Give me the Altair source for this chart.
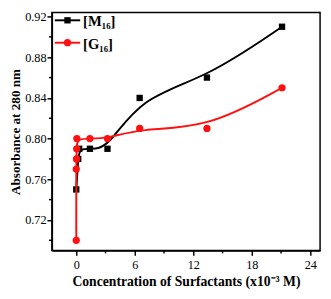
import altair as alt
import pandas as pd

# Series data
m_x = [0.0, 0.2, 0.3, 1.4, 3.2, 6.5, 13.4, 21.1]
m_y = [0.75, 0.78, 0.79, 0.79, 0.79, 0.84, 0.86, 0.91]
g_x = [0.0, 0.0, 0.02, 0.04, 0.06, 1.4, 3.2, 6.5, 13.4, 21.1]
g_y = [0.70, 0.77, 0.78, 0.79, 0.80, 0.80, 0.80, 0.81, 0.81, 0.85]

x_major = [0, 6, 12, 18, 24]
x_minor = [3, 9, 15, 21]
y_major = [0.72, 0.76, 0.80, 0.84, 0.88, 0.92]
y_minor = [0.70, 0.74, 0.78, 0.82, 0.86, 0.90]
legend_labels = ["[M₁₆]", "[G₁₆]"]

FONT = "Liberation Serif"
W, H = 275, 244

df_m = pd.DataFrame({"x": m_x, "y": m_y, "i": range(len(m_x))})
df_g = pd.DataFrame({"x": g_x, "y": g_y, "i": range(len(g_x))})

x_scale = alt.Scale(domain=[-2.5, 25], nice=False, zero=False)
y_scale = alt.Scale(domain=[0.69, 0.924], nice=False, zero=False)

x_enc = alt.X("x:Q", scale=x_scale, axis=alt.Axis(
    values=x_major, title="Concentration of Surfactants (x10⁻³ M)",
    format="d", grid=False, labelPadding=3, titlePadding=4))
y_enc = alt.Y("y:Q", scale=y_scale, axis=alt.Axis(
    values=y_major, title="Absorbance at 280 nm", format=".2f", grid=False,
    labelPadding=1, titlePadding=2, titleFontSize=13.5))

line_m = alt.Chart(df_m).mark_line(color="black", strokeWidth=2, interpolate="basis").encode(
    x=x_enc, y=y_enc, order="i:Q")
pts_m = alt.Chart(df_m).mark_point(shape="square", filled=True, color="black",
                                   size=42, opacity=1).encode(x=x_enc, y=y_enc)
line_g = alt.Chart(df_g).mark_line(color="#ff1010", strokeWidth=2, interpolate="basis").encode(
    x=x_enc, y=y_enc, order="i:Q")
pts_g = alt.Chart(df_g).mark_point(shape="circle", filled=True, color="#ff1010",
                                   size=55, opacity=1).encode(x=x_enc, y=y_enc)

xmin_df = pd.DataFrame({"x": x_minor})
ymin_df = pd.DataFrame({"y": y_minor})
xminor = alt.Chart(xmin_df).mark_rule(color="black", strokeWidth=1.5).encode(
    x=alt.X("x:Q", scale=x_scale), y=alt.value(H), y2=alt.value(H + 3))
yminor = alt.Chart(ymin_df).mark_rule(color="black", strokeWidth=1.5).encode(
    y=alt.Y("y:Q", scale=y_scale), x=alt.value(-3), x2=alt.value(0))

one = pd.DataFrame({"a": [0]})
leg = []
for k, (lab, col, shp, sz) in enumerate(zip(legend_labels, ["black", "#ff1010"],
                                             ["square", "circle"], [42, 55])):
    yy = 8 + 23 * k
    leg.append(alt.Chart(one).mark_rule(color=col, strokeWidth=2).encode(
        x=alt.value(3), x2=alt.value(29), y=alt.value(yy)))
    leg.append(alt.Chart(one).mark_point(shape=shp, filled=True, color=col, size=sz,
                                         opacity=1).encode(x=alt.value(16), y=alt.value(yy)))
    leg.append(alt.Chart(one).mark_text(align="left", baseline="middle", font=FONT,
                                        fontWeight="bold", fontSize=15, color="black").encode(
        x=alt.value(32), y=alt.value(yy + 1), text=alt.value(lab)))

chart = alt.layer(xminor, yminor, line_m, pts_m, line_g, pts_g, *leg).properties(
    width=W, height=H,
    autosize=alt.AutoSizeParams(type="none"),
    padding={"left": 45, "top": 1, "right": 3, "bottom": 40},
).configure_view(stroke="black", strokeWidth=1.5).configure_axis(
    domainColor="black", domainWidth=1.5, tickColor="black", tickWidth=1.5, tickSize=5,
    labelFont=FONT, labelFontSize=12.5, labelColor="black",
    titleFont=FONT, titleFontSize=14, titleFontWeight="bold", titleColor="black",
)

chart.save("out.html", embed_options={"renderer": "svg", "actions": False})
